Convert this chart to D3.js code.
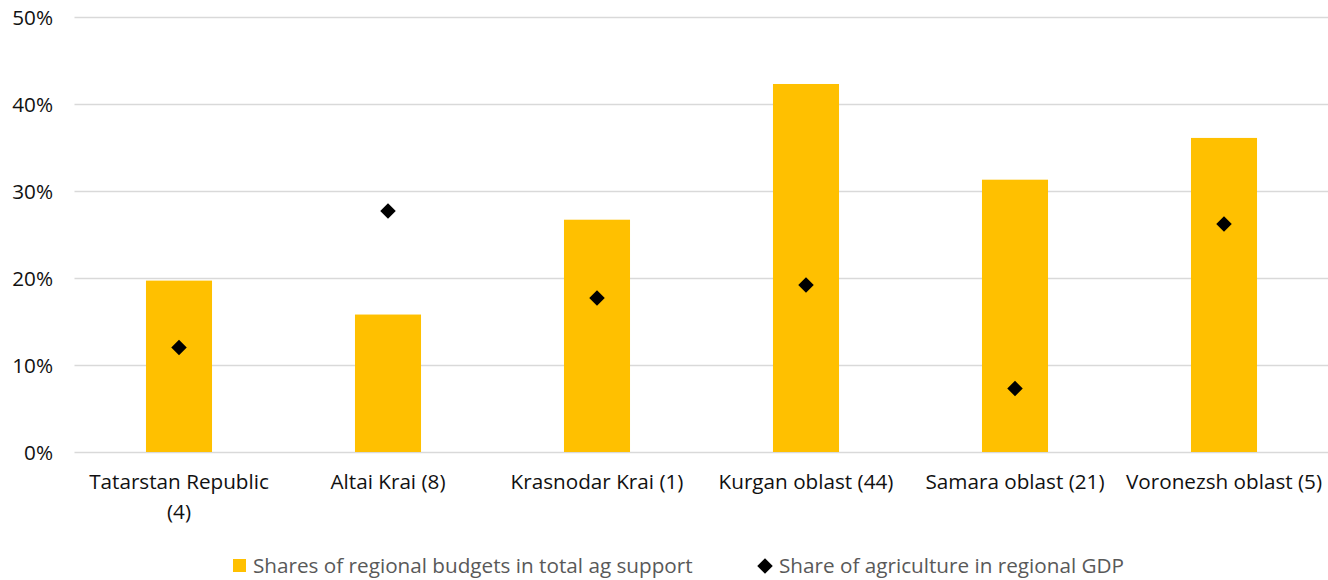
<!DOCTYPE html>
<html>
<head>
<meta charset="utf-8">
<script src="https://cdn.jsdelivr.net/npm/d3@7.9.0/dist/d3.min.js"></script>
<style>
  html, body { margin: 0; padding: 0; background: #fff; }
  svg { display: block; font-family: "Open Sans", Lato, sans-serif; }
</style>
</head>
<body>
<svg id="chart" width="1328" height="580"></svg>
<script>
// data
var categories = [
    'Tatarstan Republic (4)',
    'Altai Krai (8)',
    'Krasnodar Krai (1)',
    'Kurgan oblast (44)',
    'Samara oblast (21)',
    'Voronezsh oblast (5)'
]
// how each tick label is broken into lines
var tickLabels = [
    ['Tatarstan Republic', '(4)'],
    ['Altai Krai (8)'],
    ['Krasnodar Krai (1)'],
    ['Kurgan oblast (44)'],
    ['Samara oblast (21)'],
    ['Voronezsh oblast (5)']
]
var budgetShares = [0.197, 0.158, 0.267, 0.423, 0.313, 0.361]
var agGdpShares = [0.120, 0.277, 0.177, 0.192, 0.073, 0.262]
var yTicks = [0, 0.1, 0.2, 0.3, 0.4, 0.5]
var seriesNames = ['Shares of regional budgets in total ag support', 'Share of agriculture in regional GDP']

var BAR = '#FFC000'
var GRID = '#d9d9d9'
var FS = '20.7px'

var svg = d3.select('#chart')

var x = d3.scaleBand().domain(categories).range([74.5, 1328.5]).padding(0)
var y = d3.scaleLinear().domain([0, 0.5]).range([452, 17])
var barW = x.bandwidth() * 0.316

// gridlines
svg.append('g')
    .selectAll('line')
    .data(yTicks)
    .enter()
    .append('line')
    .attr('x1', 74.5)
    .attr('x2', 1328)
    .attr('y1', function (d) { return Math.round(y(d)) + 0.5 })
    .attr('y2', function (d) { return Math.round(y(d)) + 0.5 })
    .attr('stroke', GRID)
    .attr('stroke-width', 1.3)

// y axis labels
var yAxis = d3.axisLeft(y).tickValues(yTicks).tickFormat(d3.format('.0%')).tickSize(0).tickPadding(0)
var ya = svg.append('g').attr('transform', 'translate(53,0)').call(yAxis)
ya.select('.domain').remove()
ya.selectAll('text')
    .attr('font-family', '"Open Sans", sans-serif')
    .attr('font-size', FS)
    .attr('fill', '#111')
    .attr('dy', '0.35em')

// bars
svg.append('g')
    .selectAll('rect')
    .data(categories)
    .enter()
    .append('rect')
    .attr('x', function (d) { return x(d) + x.bandwidth() / 2 - barW / 2 })
    .attr('width', barW)
    .attr('y', function (d, i) { return y(budgetShares[i]) })
    .attr('height', function (d, i) { return y(0) - y(budgetShares[i]) })
    .attr('fill', BAR)

// diamonds
var diamond = d3.symbol().type(d3.symbolSquare).size(120)
svg.append('g')
    .selectAll('path')
    .data(categories)
    .enter()
    .append('path')
    .attr('d', diamond)
    .attr('transform', function (d, i) {
        return 'translate(' + (x(d) + x.bandwidth() / 2) + ',' + y(agGdpShares[i]) + ') rotate(45)'
    })
    .attr('fill', '#000')

// x axis labels
var xa = svg.append('g')
    .selectAll('text')
    .data(categories)
    .enter()
    .append('text')
    .attr('x', function (d) { return x(d) + x.bandwidth() / 2 })
    .attr('y', 489)
    .attr('text-anchor', 'middle')
    .attr('font-size', FS)
    .attr('fill', '#111')
xa.each(function (d, i) {
    var t = d3.select(this)
    tickLabels[i].forEach(function (line, j) {
        t.append('tspan')
            .attr('x', x(d) + x.bandwidth() / 2)
            .attr('dy', j === 0 ? 0 : 30)
            .text(line)
    })
})

// legend
var leg = svg.append('g').attr('font-size', FS).attr('fill', '#595959')
leg.append('rect').attr('x', 233).attr('y', 559).attr('width', 13).attr('height', 13).attr('fill', BAR)
leg.append('text').attr('x', 253).attr('y', 566).attr('dy', '0.35em').text(seriesNames[0])
leg.append('path')
    .attr('d', diamond)
    .attr('transform', 'translate(765,566) rotate(45)')
    .attr('fill', '#000')
leg.append('text').attr('x', 779).attr('y', 566).attr('dy', '0.35em').text(seriesNames[1])
</script>
</body>
</html>
